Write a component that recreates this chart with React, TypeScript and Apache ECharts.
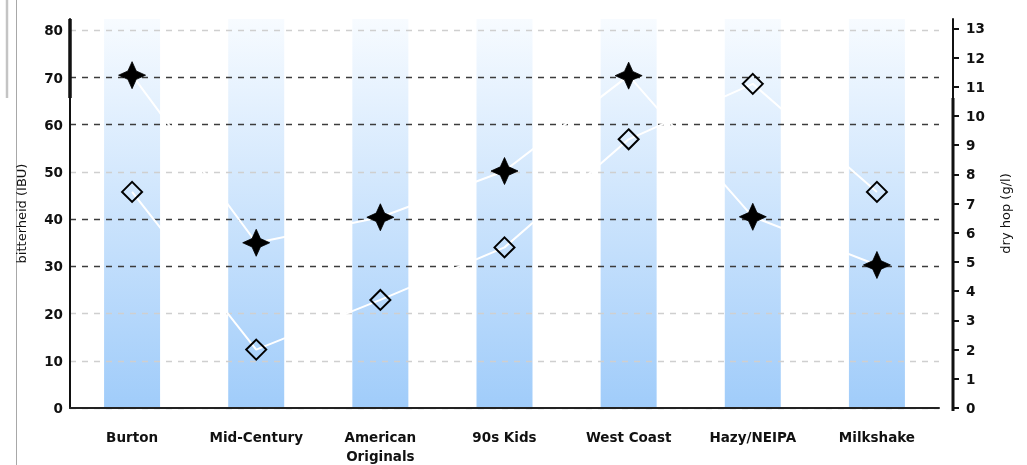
import React, { useEffect, useRef } from 'react';
import * as echarts from 'echarts';

const categories = ['Burton', 'Mid-Century', 'American\nOriginals', '90s Kids', 'West Coast', 'Hazy/NEIPA', 'Milkshake'];
const bitterness = [70.5, 35, 40.4, 50.2, 70.4, 40.5, 30.3];
const dryHop = [7.4, 2.0, 3.7, 5.5, 9.2, 11.1, 7.4];
const bandHeight = [82.4, 82.4, 82.4, 82.4, 82.4, 82.4, 82.4];
const ibuTicks = [0, 10, 20, 30, 40, 50, 60, 70, 80];
const dryHopTicks = [0, 1, 2, 3, 4, 5, 6, 7, 8, 9, 10, 11, 12, 13];
const darkGridValues = [30, 40, 60, 70];

const STAR = 'path://M0,-10 L3.1,-3.1 L10,0 L3.1,3.1 L0,10 L-3.1,3.1 L-10,0 L-3.1,-3.1 Z';
const FONT = 'DejaVu Sans';

export default function App() {
  const ref = useRef<HTMLDivElement>(null);
  useEffect(() => {
    if (!ref.current) return;
    const chart = echarts.init(ref.current, undefined, { renderer: 'svg' });
    const gridColors = ibuTicks.map((v) => (darkGridValues.includes(v) ? '#3c3c3c' : '#cfcfcf'));
    const tickLabel = { fontFamily: FONT, fontWeight: 'bold' as const, fontSize: 13.5, color: '#111' };
    chart.setOption({
      animation: false,
      grid: { left: 70, top: 19, width: 869, height: 392, containLabel: false },
      xAxis: {
        type: 'category',
        data: categories,
        boundaryGap: true,
        z: 2,
        axisLine: { lineStyle: { color: '#222', width: 2 } },
        axisTick: { show: false },
        axisLabel: { interval: 0, margin: 19, lineHeight: 19, ...tickLabel },
      },
      yAxis: [
        {
          type: 'value', min: 0, max: 82.4, position: 'left', z: 2,
          name: 'bitterheid (IBU)', nameLocation: 'middle', nameRotate: 90, nameGap: 42,
          nameTextStyle: { fontFamily: FONT, fontSize: 13, color: '#111' },
          axisLine: { show: true, lineStyle: { color: '#111', width: 2 } },
          axisTick: { show: false, customValues: ibuTicks },
          axisLabel: { customValues: ibuTicks, margin: 7, ...tickLabel },
          splitLine: { show: true, lineStyle: { type: [6, 6], width: 1.4, color: gridColors } },
        },
        {
          type: 'value', min: 0, max: 13.32, position: 'right', offset: 14, z: 2,
          name: 'dry hop (g/l)', nameLocation: 'middle', nameRotate: 90, nameGap: 46,
          nameTextStyle: { fontFamily: FONT, fontSize: 13, color: '#111' },
          axisLine: { show: true, lineStyle: { color: '#111', width: 2 } },
          axisTick: { show: true, customValues: dryHopTicks, length: 6, lineStyle: { color: '#111', width: 2 } },
          axisLabel: { customValues: dryHopTicks, margin: 13, ...tickLabel },
          splitLine: { show: false },
        },
      ],
      series: [
        {
          type: 'bar', data: bandHeight, yAxisIndex: 0, barWidth: 56, z: 1, silent: true,
          itemStyle: {
            color: new echarts.graphic.LinearGradient(0, 0, 0, 1, [
              { offset: 0, color: '#f7fbff' },
              { offset: 1, color: '#a0ccfa' },
            ]),
          },
        },
        {
          type: 'line', data: bitterness, yAxisIndex: 0, z: 3,
          symbol: STAR, symbolSize: 27, showSymbol: true,
          lineStyle: { color: '#ffffff', width: 2 },
          itemStyle: { color: '#000000', borderColor: '#000000', borderWidth: 0.8 },
        },
        {
          type: 'line', data: dryHop, yAxisIndex: 1, z: 3,
          symbol: 'diamond', symbolSize: 20, showSymbol: true,
          lineStyle: { color: '#ffffff', width: 2 },
          itemStyle: { color: 'rgba(0,0,0,0)', borderColor: '#000000', borderWidth: 2 },
        },
      ],
      graphic: [
        { type: 'line', shape: { x1: 7, y1: 0, x2: 7, y2: 98 }, style: { stroke: '#c4c4c4', lineWidth: 2.5 } },
        { type: 'line', shape: { x1: 16.5, y1: 0, x2: 16.5, y2: 465 }, style: { stroke: '#a8a8a8', lineWidth: 1 } },
        { type: 'line', shape: { x1: 70, y1: 19, x2: 70, y2: 98 }, style: { stroke: '#111', lineWidth: 3.5 }, z: 10 },
        { type: 'line', shape: { x1: 953, y1: 98, x2: 953, y2: 411 }, style: { stroke: '#111', lineWidth: 3 }, z: 10 },
      ],
    });
    return () => chart.dispose();
  }, []);
  return <div ref={ref} style={{ position: 'fixed', left: 0, top: 0, width: 1027, height: 465 }} />;
}
